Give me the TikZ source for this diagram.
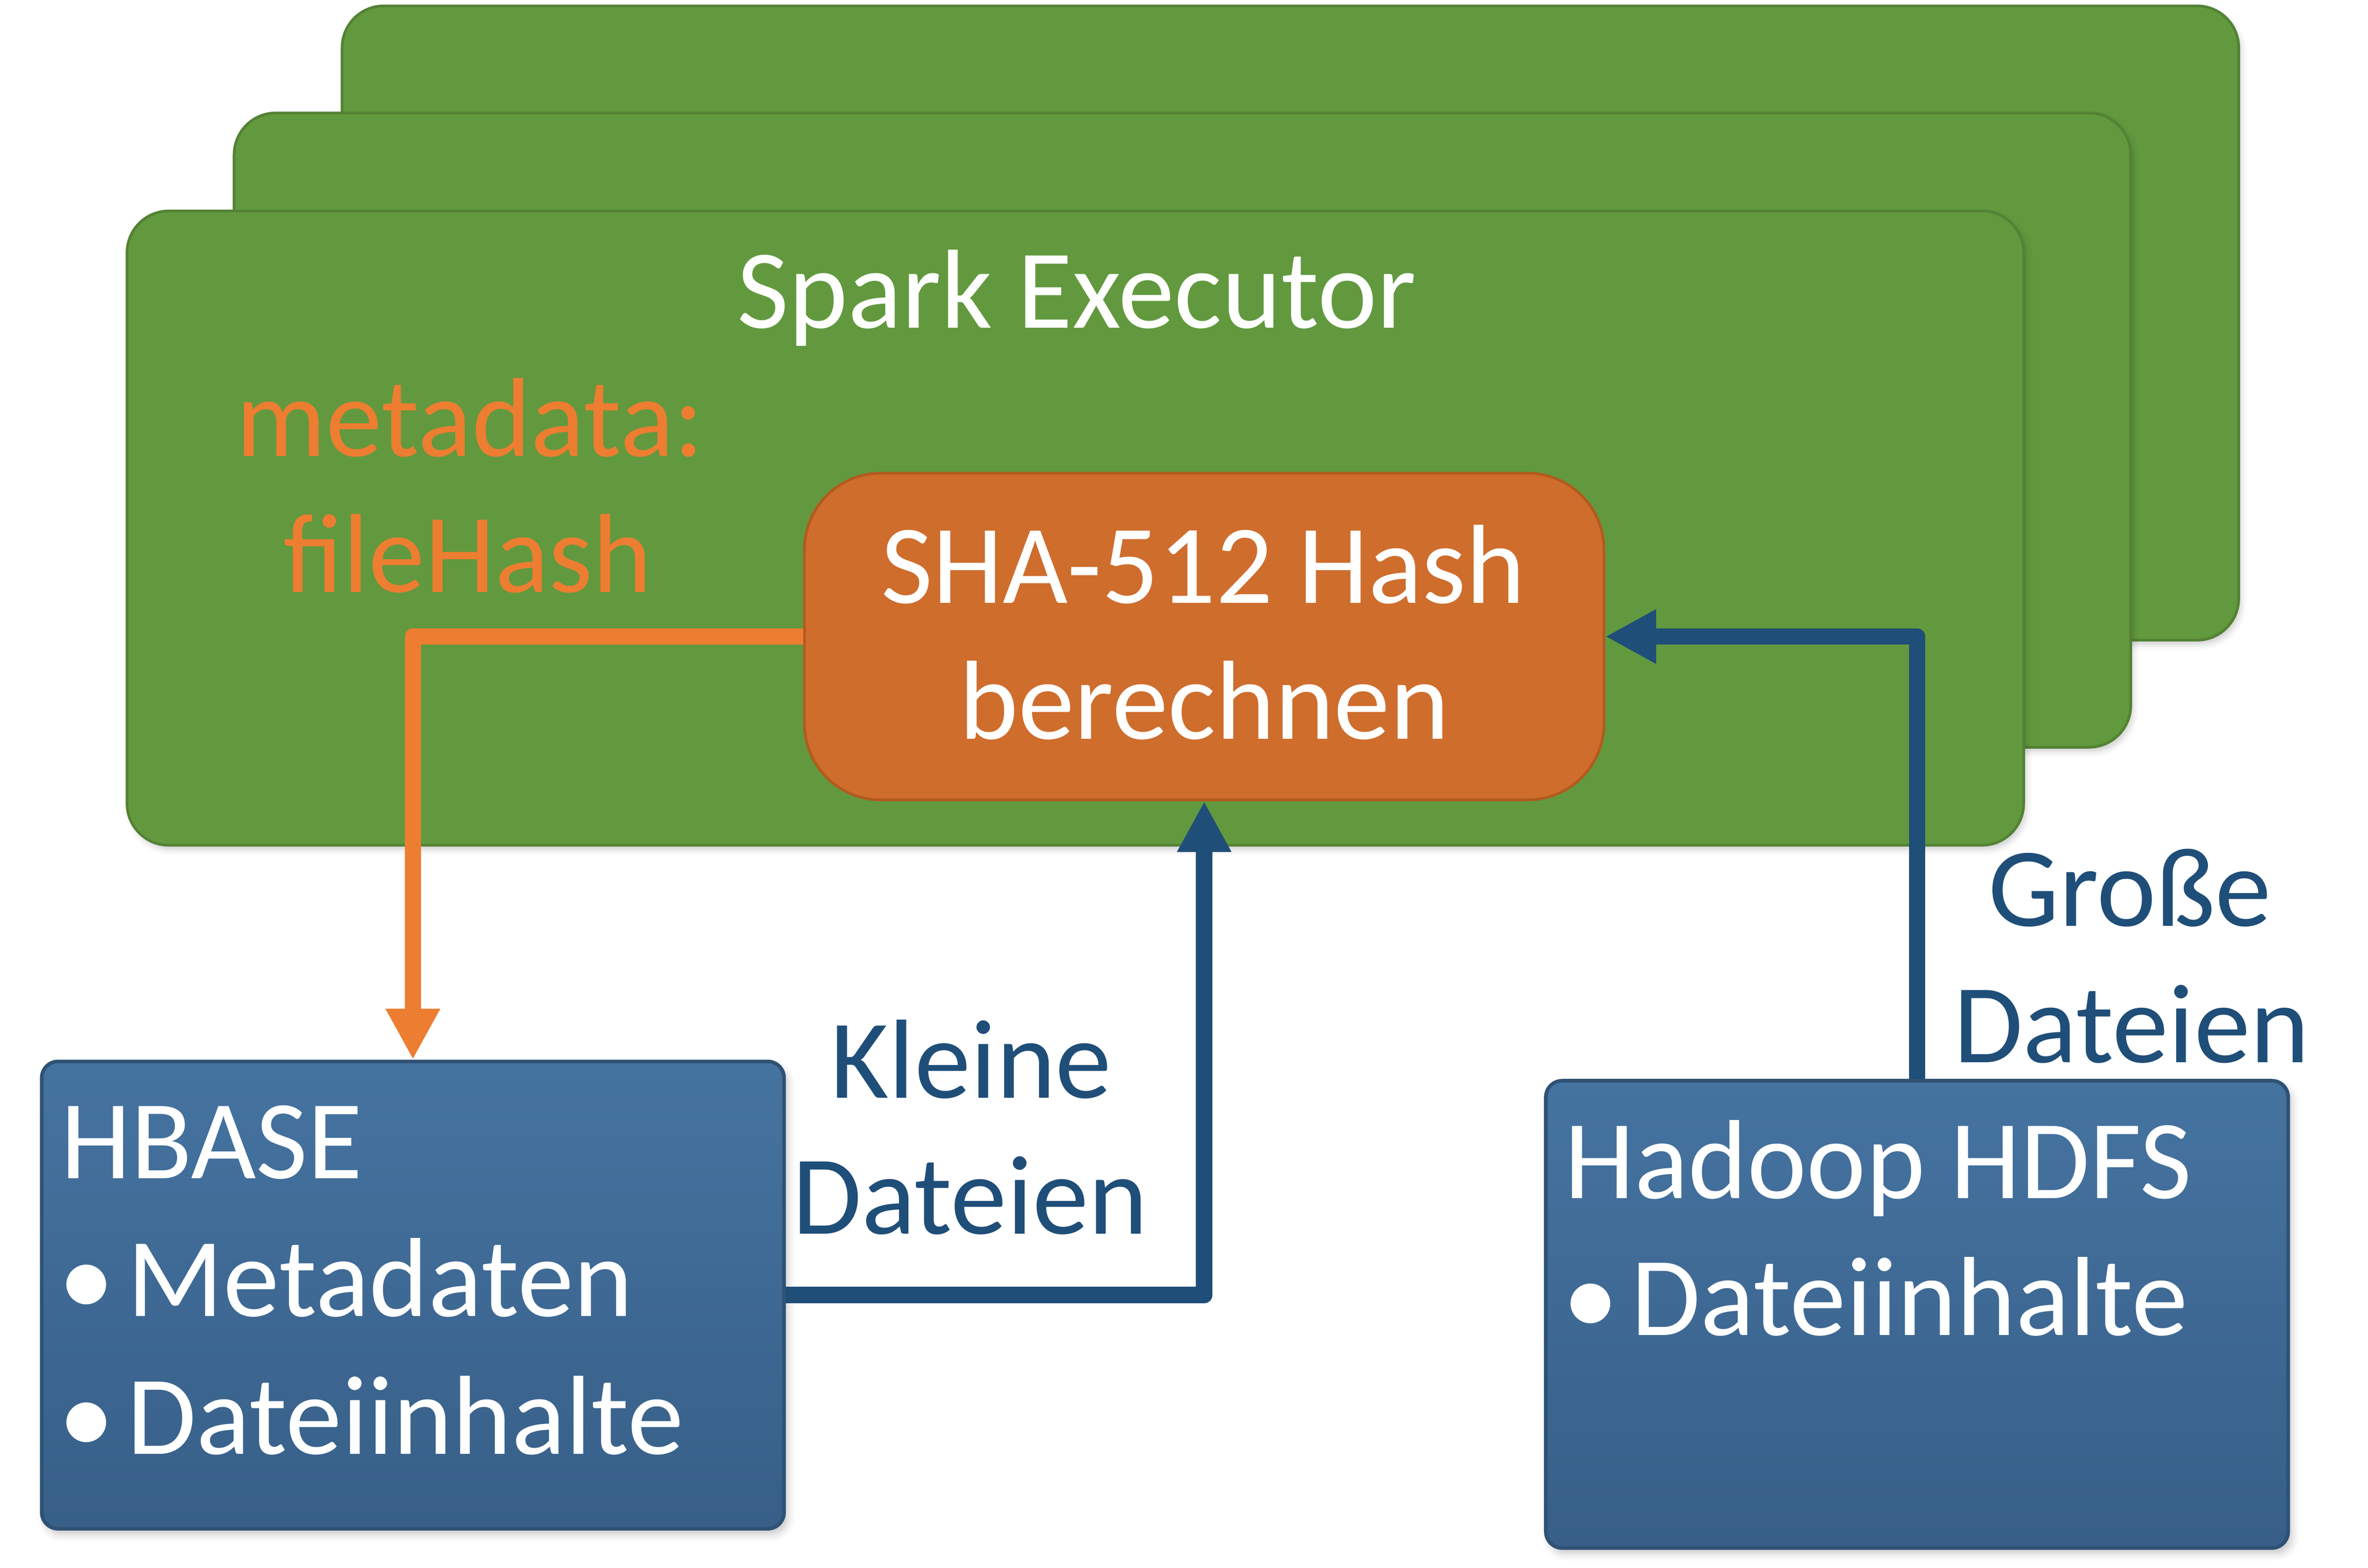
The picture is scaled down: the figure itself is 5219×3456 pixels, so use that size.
\documentclass[tikz,border=0pt]{standalone}
\usepackage{fontspec}
\setmainfont{Carlito}
\usetikzlibrary{arrows.meta,shadows.blur}
\definecolor{exgreen}{HTML}{62993E}
\definecolor{exgreenline}{HTML}{548235}
\definecolor{hashfill}{HTML}{CF6D2D}
\definecolor{hashline}{HTML}{B35A1F}
\definecolor{metaorange}{HTML}{ED7D31}
\definecolor{flowblue}{HTML}{1F4E79}
\definecolor{storetop}{HTML}{4573A0}
\definecolor{storebot}{HTML}{375F88}
\definecolor{storeline}{HTML}{2F5274}
\begin{document}
\begin{tikzpicture}[x=0.25pt,y=-0.25pt,
  execbox/.style={draw=exgreenline, line width=1.5pt, fill=exgreen,
    rounded corners=23pt, minimum width=1045pt, minimum height=349.5pt, inner sep=0pt,
    blur shadow={shadow xshift=1.5pt, shadow yshift=-2.5pt, shadow blur radius=3pt, shadow opacity=18}},
  hashbox/.style={draw=hashline, line width=1.5pt, fill=hashfill,
    rounded corners=42pt, minimum width=440.5pt, minimum height=180pt, inner sep=0pt},
  storebox/.style={draw=storeline, line width=2pt, top color=storetop, bottom color=storebot,
    rounded corners=9pt, minimum width=409pt, minimum height=257.5pt, inner sep=0pt,
    blur shadow={shadow xshift=2pt, shadow yshift=-3pt, shadow blur radius=4pt, shadow opacity=22}},
  txt/.style={font=\fontsize{62pt}{75pt}\selectfont, inner sep=0pt, anchor=base},
  wtxt/.style={txt, text=white},
  flow/.style={line width=9pt, line join=round, -{Triangle[length=28pt,width=28pt]}}
]
\useasboundingbox (0,0) rectangle (5219,3456);

% stacked executors
\node[execbox] (exec3) at (2844,712) {};
\node[execbox] (exec2) at (2606,948) {};
\node[execbox] (exec1) at (2370,1164) {};

\node[wtxt] (title) at (2373,723) {Spark Executor};
\node[txt, text=metaorange] (meta1) at (1036,1006) {metadata:};
\node[txt, text=metaorange] (meta2) at (1031,1305) {fileHash};

% hash box
\node[hashbox] (sha) at (2654,1403) {};
\node[wtxt] (sha1) at (2652,1329) {SHA-512 Hash};
\node[wtxt] (sha2) at (2654,1629) {berechnen};

% storage boxes
\node[storebox] (hbase) at (910,2854.5) {};
\node[wtxt, anchor=base west] (hb0) at (133,2598) {HBASE};
\node[wtxt, anchor=base west] (hb1) at (128,2901) {\makebox[38pt][l]{•}Metadaten};
\node[wtxt, anchor=base west] (hb2) at (128,3205) {\makebox[38pt][l]{•}Dateiinhalte};

\node[storebox] (hdfs) at (4225,2897) {};
\node[wtxt, anchor=base west] (hd0) at (3447,2641) {Hadoop HDFS};
\node[wtxt, anchor=base west] (hd1) at (3443,2943) {\makebox[38pt][l]{•}Dateiinhalte};

% connectors
\draw[flow, draw=metaorange] (sha.west) -| (hbase.north);
\draw[flow, draw=flowblue] (hbase.east) -| (sha.south);
\draw[flow, draw=flowblue] (hdfs.north) |- (sha.east);

% connector labels
\node[txt, text=flowblue] (kl1) at (2140,2420) {Kleine};
\node[txt, text=flowblue] (kl2) at (2138,2720) {Dateien};
\node[txt, text=flowblue] (gr1) at (4694,2041) {Große};
\node[txt, text=flowblue] (gr2) at (4698,2342) {Dateien};
\end{tikzpicture}
\end{document}
